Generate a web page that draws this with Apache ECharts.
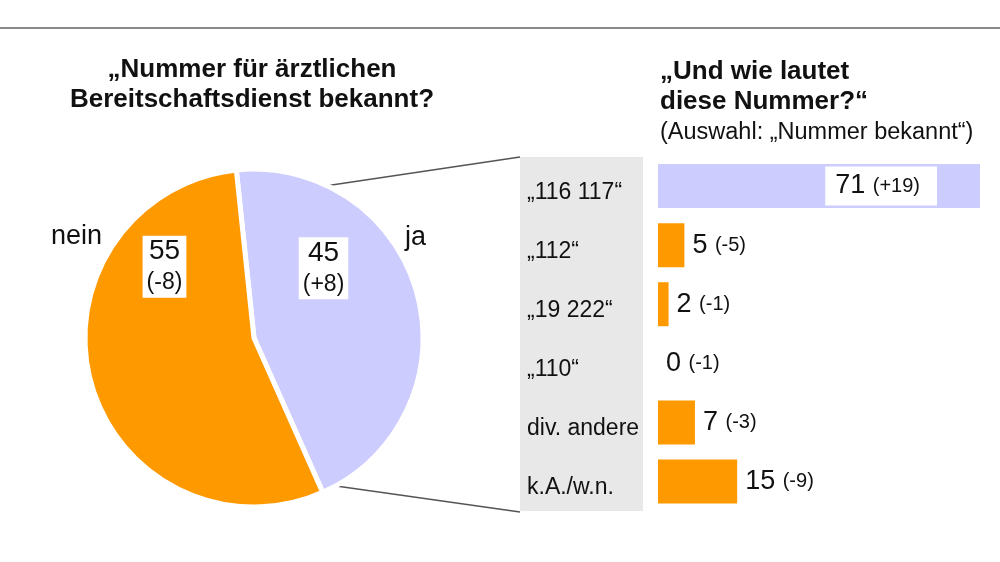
<!DOCTYPE html>
<html>
<head>
<meta charset="utf-8">
<script src="https://cdn.jsdelivr.net/npm/echarts@6/dist/echarts.min.js"></script>
<style>
  html, body { margin: 0; padding: 0; background: #fff; }
  #chart { width: 1000px; height: 562px; }
</style>
</head>
<body>
<div id="chart"></div>
<script>
var FONT = '"Liberation Sans", Arial, sans-serif';

// Pie: bekannt ja / nein
var pieNames = ['ja', 'nein'];
var pieValues = [45, 55];
var pieChanges = ['+8', '-8'];
var pieColors = ['#CCCCFF', '#FF9900'];

// Bars: welche Nummer
var barCategories = ['\u201E116 117\u201C', '\u201E112\u201C', '\u201E19 222\u201C', '\u201E110\u201C', 'div. andere', 'k.A./w.n.'];
var barValues = [71, 5, 2, 0, 7, 15];
var barChanges = ['+19', '-5', '-1', '-1', '-3', '-9'];

var chart = echarts.init(document.getElementById('chart'));

// label placement tweaks (offsets from the 'inside' anchor)
var valueOffsets = [[-15, -47], [-5, -94]];
var nameOffsets = [[77, -78], [-93, -124]];

var pieData = pieValues.map(function (v, i) {
    return {
        name: pieNames[i],
        value: v,
        itemStyle: { color: pieColors[i] },
        label: { offset: valueOffsets[i] }
    };
});
var pieNameData = pieValues.map(function (v, i) {
    return {
        name: pieNames[i],
        value: v,
        label: { offset: nameOffsets[i] }
    };
});

var barData = barValues.map(function (v, i) {
    var item = { value: v, itemStyle: { color: i === 0 ? '#CCCCFF' : '#FF9900' } };
    if (i === 0) {
        item.label = {
            position: 'insideRight',
            distance: 43,
            backgroundColor: '#fff',
            padding: [6, 17, 6, 10]
        };
    }
    return item;
});

chart.setOption({
    backgroundColor: '#fff',
    animation: false,
    textStyle: { fontFamily: FONT },
    title: [{
        text: '\u201ENummer f\u00FCr \u00E4rztlichen\nBereitschaftsdienst bekannt?',
        left: 252,
        top: 55,
        padding: 0,
        textAlign: 'center',
        textStyle: { fontFamily: FONT, fontSize: 26, fontWeight: 'bold', color: '#111', lineHeight: 30 }
    }, {
        text: '\u201EUnd wie lautet\ndiese Nummer?\u201C',
        left: 660,
        top: 57,
        padding: 0,
        textStyle: { fontFamily: FONT, fontSize: 26, fontWeight: 'bold', color: '#111', lineHeight: 30 }
    }, {
        text: '(Auswahl: \u201ENummer bekannt\u201C)',
        left: 660,
        top: 118,
        padding: 0,
        textStyle: { fontFamily: FONT, fontSize: 23.5, fontWeight: 'normal', color: '#111', lineHeight: 30 }
    }],
    graphic: {
        elements: [{
            type: 'rect',
            z: -10,
            shape: { x: 520, y: 157, width: 123, height: 354 },
            style: { fill: '#e8e8e8' }
        }, {
            type: 'line',
            shape: { x1: 0, y1: 28, x2: 1000, y2: 28 },
            style: { stroke: '#8a8a8a', lineWidth: 2 }
        }, {
            type: 'line',
            shape: { x1: 325, y1: 186, x2: 520, y2: 157 },
            style: { stroke: '#555', lineWidth: 1.5 }
        }, {
            type: 'line',
            shape: { x1: 322, y1: 484, x2: 520, y2: 512 },
            style: { stroke: '#555', lineWidth: 1.5 }
        }]
    },
    grid: { left: 658, right: 20, top: 156.5, bottom: 51, containLabel: false },
    xAxis: { type: 'value', min: 0, max: 61, show: false },
    yAxis: {
        type: 'category',
        inverse: true,
        data: barCategories,
        axisLine: { show: false },
        axisTick: { show: false },
        axisLabel: {
            align: 'left',
            verticalAlign: 'top',
            lineHeight: 13,
            margin: 131,
            fontFamily: FONT,
            fontSize: 23,
            color: '#111'
        }
    },
    series: [{
        type: 'pie',
        center: [254, 338],
        radius: 169,
        startAngle: 96,
        clockwise: true,
        silent: true,
        itemStyle: { borderColor: '#fff', borderWidth: 5 },
        labelLine: { show: false },
        label: {
            position: 'inside',
            backgroundColor: '#fff',
            padding: [0, 4],
            formatter: function (p) {
                return '{a|' + p.value + '}\n{b|(' + pieChanges[p.dataIndex] + ')}';
            },
            rich: {
                a: { fontFamily: FONT, fontSize: 28, lineHeight: 32, color: '#111', align: 'center' },
                b: { fontFamily: FONT, fontSize: 23, lineHeight: 30, color: '#111', align: 'center' }
            }
        },
        data: pieData
    }, {
        type: 'pie',
        center: [254, 338],
        radius: 169,
        startAngle: 96,
        clockwise: true,
        silent: true,
        itemStyle: { color: 'rgba(0,0,0,0)' },
        labelLine: { show: false },
        label: {
            position: 'inside',
            formatter: '{b}',
            fontFamily: FONT,
            fontSize: 27,
            color: '#111'
        },
        data: pieNameData
    }, {
        type: 'bar',
        barWidth: 44,
        silent: true,
        clip: true,
        label: {
            show: true,
            position: 'right',
            distance: 8,
            fontSize: 27,
            color: '#111',
            formatter: function (p) {
                return '{a|' + p.value + '} {b|(' + barChanges[p.dataIndex] + ')}';
            },
            rich: {
                a: { fontFamily: FONT, fontSize: 27, color: '#111' },
                b: { fontFamily: FONT, fontSize: 20, color: '#111' }
            }
        },
        data: barData
    }]
});
</script>
</body>
</html>
